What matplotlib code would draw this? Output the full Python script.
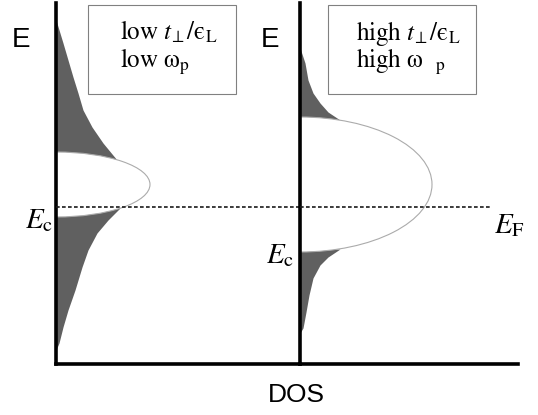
import matplotlib
matplotlib.use("Agg")
import matplotlib.pyplot as plt
from matplotlib.patches import Ellipse, Rectangle

plt.rcParams['mathtext.fontset'] = 'stix'

# ---------------- data (E and DOS in arbitrary units) ----------------
# Left panel: low t_perp/eps_L, low omega_p
left_band_center = 1.795
left_band_halfwidth = 0.325
left_peak_dos = 0.94
left_upper_tail_E = [3.44, 3.21, 3.04, 2.87, 2.71, 2.54, 2.37, 2.21, 2.04]
left_upper_tail_dos = [0.00, 0.07, 0.12, 0.17, 0.22, 0.27, 0.36, 0.47, 0.61]
left_lower_tail_E = [1.56, 1.44, 1.31, 1.14, 0.97, 0.74, 0.54, 0.37, 0.21, 0.14]
left_lower_tail_dos = [0.64, 0.52, 0.41, 0.32, 0.26, 0.19, 0.12, 0.07, 0.03, 0.00]

# Right panel: high t_perp/eps_L, high omega_p
right_band_center = 1.795
right_band_halfwidth = 0.675
right_peak_dos = 1.32
right_upper_tail_E = [3.16, 3.01, 2.84, 2.71, 2.61, 2.52, 2.44]
right_upper_tail_dos = [0.00, 0.05, 0.08, 0.13, 0.20, 0.28, 0.40]
right_lower_tail_E = [1.15, 1.07, 0.99, 0.86, 0.69, 0.52, 0.36, 0.31]
right_lower_tail_dos = [0.40, 0.28, 0.20, 0.13, 0.09, 0.06, 0.03, 0.00]

fermi_E = 1.57
E_max = 3.61
left_dos_max = 2.44
right_dos_max = 2.18
right_fermi_end = 1.90

left_box_lines = [r'low $t_{\!\perp}$/ϵ$_{\mathrm{L}}$', r'low ω$_{\mathrm{p}}$']
right_box_lines = [r'high $t_{\!\perp}$/ϵ$_{\mathrm{L}}$', r'high ω  $_{\mathrm{p}}$']

# ---------------- styling ----------------
GREY = '#606060'
EDGE = '#ababab'
W, H = 538, 415

fig = plt.figure(figsize=(W / 100, H / 100), dpi=100)
ax1 = fig.add_axes([56 / W, 51 / H, 244 / W, 361 / H])
ax2 = fig.add_axes([300 / W, 51 / H, 218 / W, 361 / H])


def draw_panel(ax, dos_max, center, halfwidth, peak, ut_E, ut_d, lt_E, lt_d,
               fermi_end, box_x0, box_x1, text_x, lines, ec_pad):
    ax.set_xlim(0, dos_max)
    ax.set_ylim(0, E_max)
    for s in ('top', 'right'):
        ax.spines[s].set_visible(False)
    for s in ('left', 'bottom'):
        ax.spines[s].set_linewidth(2.6)
        ax.spines[s].set_capstyle('projecting')
    ax.set_xticks([])
    ax.set_yticks([center - halfwidth])
    ax.set_yticklabels([r'$E_{\mathrm{c}}$'], fontsize=21)
    ax.tick_params(axis='y', length=0, pad=ec_pad)
    ax.patch.set_alpha(0)

    ax.fill_betweenx(ut_E, 0, ut_d, color=GREY, lw=0, zorder=1)
    ax.fill_betweenx(lt_E, 0, lt_d, color=GREY, lw=0, zorder=1)
    ax.add_patch(Ellipse((0, center), 2 * peak, 2 * halfwidth, fc='white',
                         ec=EDGE, lw=0.8, zorder=2))
    ax.hlines(fermi_E, 0, fermi_end, colors='#1a1a1a', lw=1.2,
              linestyles=(0, (2.2, 1.4)), zorder=3)

    ax.set_ylabel('E', rotation=0, fontsize=20, family='Liberation Sans',
                  ha='center', va='center')

    y0 = (364 - 94) / 361
    y1 = (364 - 5) / 361
    ax.add_patch(Rectangle((box_x0, y0), box_x1 - box_x0, y1 - y0,
                           transform=ax.transAxes, fill=False, ec='#808080',
                           lw=0.8, clip_on=False, zorder=4))
    for i, line in enumerate(lines):
        ax.text(text_x, (364 - 40 - 28 * i) / 361, line, transform=ax.transAxes,
                ha='left', va='baseline', fontsize=18, family='STIXGeneral',
                zorder=5)


draw_panel(ax1, left_dos_max, left_band_center, left_band_halfwidth, left_peak_dos,
           left_upper_tail_E, left_upper_tail_dos, left_lower_tail_E, left_lower_tail_dos,
           left_dos_max, (88 - 56) / 244, (236 - 56) / 244, (120 - 56) / 244,
           left_box_lines, 2)
ax1.yaxis.set_label_coords((21 - 56) / 244, (364 - 40) / 361)

draw_panel(ax2, right_dos_max, right_band_center, right_band_halfwidth, right_peak_dos,
           right_upper_tail_E, right_upper_tail_dos, right_lower_tail_E, right_lower_tail_dos,
           right_fermi_end, (328 - 300) / 218, (476 - 300) / 218, (356 - 300) / 218,
           right_box_lines, 4)
ax2.yaxis.set_label_coords((270 - 300) / 218, (364 - 40) / 361)

ax2.text(right_fermi_end + 0.04, fermi_E - 0.04, r'$E_{\mathrm{F}}$', fontsize=21,
         ha='left', va='top')

fig.text(296 / W, 1 - 395 / H, 'DOS', ha='center', va='center', fontsize=19,
         family='Liberation Sans')

fig.savefig('out.png', dpi=100)
